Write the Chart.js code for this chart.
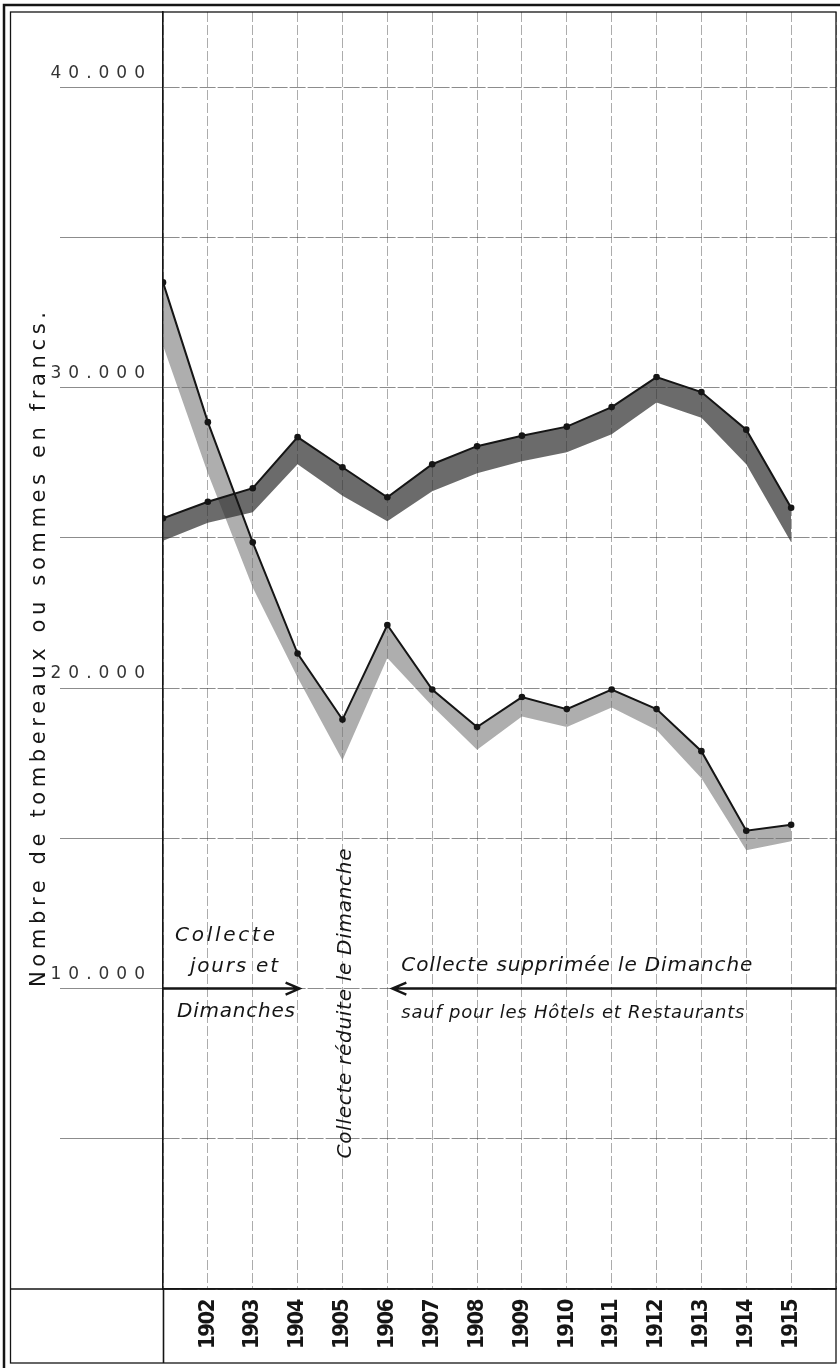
<!DOCTYPE html>
<html lang="fr">
<head>
<meta charset="utf-8">
<title>Collecte des ordures</title>
<script src="https://cdn.jsdelivr.net/npm/chart.js@4.4.0/dist/chart.umd.min.js"></script>
<style>
  html, body { margin: 0; padding: 0; background: #fff; }
  #graphique { display: block; }
</style>
</head>
<body>
<canvas id="graphique" width="840" height="1368"></canvas>
<script>
// donnees
const annees = [1901, 1902, 1903, 1904, 1905, 1906, 1907, 1908, 1909, 1910, 1911, 1912, 1913, 1914, 1915];
const anneesAffichees = [1902, 1903, 1904, 1905, 1906, 1907, 1908, 1909, 1910, 1911, 1912, 1913, 1914, 1915];
const grilleY = [0, 5000, 10000, 15000, 20000, 25000, 30000, 35000, 40000];
const valeursEtiquetees = [10000, 20000, 30000, 40000];

// courbe montante (trait noir) et bord inferieur de sa bande foncee
const serieHaut    = [25650, 26200, 26650, 28350, 27350, 26350, 27450, 28050, 28400, 28700, 29350, 30350, 29850, 28600, 26000];
const serieHautBas = [24900, 25500, 25850, 27450, 26400, 25550, 26550, 27150, 27550, 27850, 28450, 29500, 29000, 27450, 24850];

// courbe descendante (trait noir) et bord inferieur de sa bande claire
const serieBas     = [33500, 28850, 24850, 21150, 18950, 22100, 19950, 18700, 19700, 19300, 19950, 19300, 17900, 15250, 15450];
const serieBasBas  = [31400, 27150, 23350, 20350, 17600, 21000, 19400, 17950, 19050, 18700, 19350, 18600, 17000, 14600, 14900];

const pointsDe = (vals) => annees.map((a, i) => ({ x: a, y: vals[i] }));
const formatFr = (v) => (v / 1000) + ".000";

const encre = "#151515";

// ecrit un texte sur une longueur donnee (espacement ou compression)
function texteAjuste(ctx, texte, x, y, largeur, police, angle) {
  ctx.save();
  ctx.font = police;
  const gereEspacement = "letterSpacing" in ctx;
  if (gereEspacement) ctx.letterSpacing = "0px";
  const naturelle = ctx.measureText(texte).width;
  ctx.translate(x, y);
  if (angle) ctx.rotate(angle);
  let espace = (largeur - naturelle) / (texte.length - 1);
  if (espace < 0 || !gereEspacement) {
    ctx.scale(largeur / naturelle, 1);
  } else {
    ctx.letterSpacing = espace + "px";
  }
  ctx.fillStyle = encre;
  ctx.textAlign = "left";
  ctx.textBaseline = "middle";
  ctx.fillText(texte, 0, 0);
  ctx.restore();
}

function fleche(ctx, x1, x2, y) {
  const sens = x2 > x1 ? 1 : -1;
  ctx.beginPath();
  ctx.moveTo(x1, y);
  ctx.lineTo(x2, y);
  ctx.moveTo(x2 - sens * 14, y - 6);
  ctx.lineTo(x2, y);
  ctx.lineTo(x2 - sens * 14, y + 6);
  ctx.stroke();
}

const habillage = {
  id: "habillage",
  beforeDraw(chart) {
    // annees un peu serrees
    chart.ctx.letterSpacing = "-1.5px";
  },
  afterDatasetsDraw(chart) {
    // espacement large des chiffres de l'axe vertical
    chart.ctx.letterSpacing = "7px";
  },
  afterDraw(chart) {
    const { ctx, chartArea, scales: { x, y } } = chart;
    ctx.save();
    ctx.letterSpacing = "0px";
    ctx.strokeStyle = encre;
    ctx.lineCap = "butt";

    // cadre double
    ctx.lineWidth = 2.5;
    ctx.strokeRect(4, 5, chart.width + 10, chart.height + 10);
    ctx.lineWidth = 1.3;
    ctx.strokeRect(10.5, chartArea.top, chartArea.right - 10.5, chart.height - 5 - chartArea.top);

    // ligne du bandeau des annees
    const y0 = y.getPixelForValue(0);
    ctx.lineWidth = 1.6;
    ctx.beginPath();
    ctx.moveTo(10.5, y0);
    ctx.lineTo(chartArea.right, y0);
    ctx.stroke();

    // fleches sur la ligne des 10.000
    const y10 = y.getPixelForValue(10000);
    ctx.lineWidth = 2.4;
    fleche(ctx, x.getPixelForValue(1901), x.getPixelForValue(1904) + 2, y10);
    fleche(ctx, chartArea.right, x.getPixelForValue(1906) + 5, y10);

    const italique = "italic 20px 'DejaVu Sans', sans-serif";
    const x01 = x.getPixelForValue(1901);
    texteAjuste(ctx, "Collecte", x01 + 12, y10 - 53, 100, italique);
    texteAjuste(ctx, "jours et", x01 + 27, y10 - 22, 88, italique);
    texteAjuste(ctx, "Dimanches", x01 + 14, y10 + 23, 118, italique);

    texteAjuste(ctx, "Collecte réduite le Dimanche", x.getPixelForValue(1905) + 3, y10 + 170, 310,
      "italic 20px 'DejaVu Sans', sans-serif", -Math.PI / 2);

    const x06 = x.getPixelForValue(1906);
    texteAjuste(ctx, "Collecte supprimée le Dimanche", x06 + 14, y10 - 23, 351, italique);
    texteAjuste(ctx, "sauf pour les Hôtels et Restaurants", x06 + 14, y10 + 25, 343,
      "italic 18px 'DejaVu Sans', sans-serif");

    // titre de l'axe vertical
    texteAjuste(ctx, "Nombre de tombereaux ou sommes en francs.", 40, 987, 675,
      "21px 'DejaVu Sans', sans-serif", -Math.PI / 2);

    ctx.restore();
  }
};

const graphique = new Chart(document.getElementById("graphique"), {
  type: "line",
  data: {
    datasets: [
      {
        label: "Courbe montante",
        data: pointsDe(serieHaut),
        borderColor: encre,
        borderWidth: 2,
        pointRadius: 3.3,
        pointBackgroundColor: encre,
        pointBorderWidth: 0,
        fill: false,
        tension: 0,
        order: 1
      },
      {
        label: "Courbe montante (bande)",
        data: pointsDe(serieHautBas),
        borderColor: "rgba(0,0,0,0)",
        borderWidth: 0,
        pointRadius: 0,
        fill: "-1",
        backgroundColor: "rgba(50,50,50,0.72)",
        tension: 0,
        order: 2
      },
      {
        label: "Courbe descendante",
        data: pointsDe(serieBas),
        borderColor: encre,
        borderWidth: 2,
        pointRadius: 3.3,
        pointBackgroundColor: encre,
        pointBorderWidth: 0,
        fill: false,
        tension: 0,
        order: 1
      },
      {
        label: "Courbe descendante (bande)",
        data: pointsDe(serieBasBas),
        borderColor: "rgba(0,0,0,0)",
        borderWidth: 0,
        pointRadius: 0,
        fill: "-1",
        backgroundColor: "rgba(115,115,115,0.58)",
        tension: 0,
        order: 2
      }
    ]
  },
  options: {
    responsive: false,
    animation: false,
    events: [],
    layout: { padding: { left: 10, top: 12, right: 3, bottom: 5 } },
    plugins: {
      legend: { display: false },
      tooltip: { enabled: false }
    },
    scales: {
      x: {
        type: "linear",
        min: 1901,
        max: 1916,
        ticks: {
          stepSize: 1,
          autoSkip: false,
          includeBounds: false,
          minRotation: 90,
          maxRotation: 90,
          padding: -63,
          color: encre,
          font: { family: "'DejaVu Sans Condensed', 'DejaVu Sans', sans-serif", size: 22, weight: "bold" },
          callback: (v) => anneesAffichees.includes(v) ? String(v) : ""
        },
        grid: {
          color: "rgba(70,70,70,0.45)",
          lineWidth: 1,
          tickLength: 74,
          tickWidth: 1.6,
          tickColor: (c) => c.tick && c.tick.value === 1901 ? encre : "rgba(0,0,0,0)"
        },
        border: { display: true, color: encre, width: 1.6, dash: [10, 3] },
        afterFit: (s) => { s.height = 74; s.paddingLeft = 0; s.paddingRight = 0; }
      },
      y: {
        type: "linear",
        min: 0,
        max: 42500,
        afterBuildTicks: (s) => { s.ticks = grilleY.map((v) => ({ value: v })); },
        ticks: {
          autoSkip: false,
          padding: -92,
          labelOffset: -14,
          z: 1,
          color: "#333",
          font: { family: "'DejaVu Sans', sans-serif", size: 17 },
          callback: (v) => valeursEtiquetees.includes(v) ? formatFr(v) : ""
        },
        grid: {
          color: "rgba(45,45,45,0.55)",
          lineWidth: 1,
          tickLength: 103,
          tickColor: "rgba(45,45,45,0.55)",
          tickWidth: 1
        },
        border: { display: true, color: encre, width: 1.6, dash: [16, 2] },
        afterFit: (s) => { s.width = 153; s.paddingTop = 0; s.paddingBottom = 0; }
      }
    }
  },
  plugins: [habillage]
});
</script>
</body>
</html>
